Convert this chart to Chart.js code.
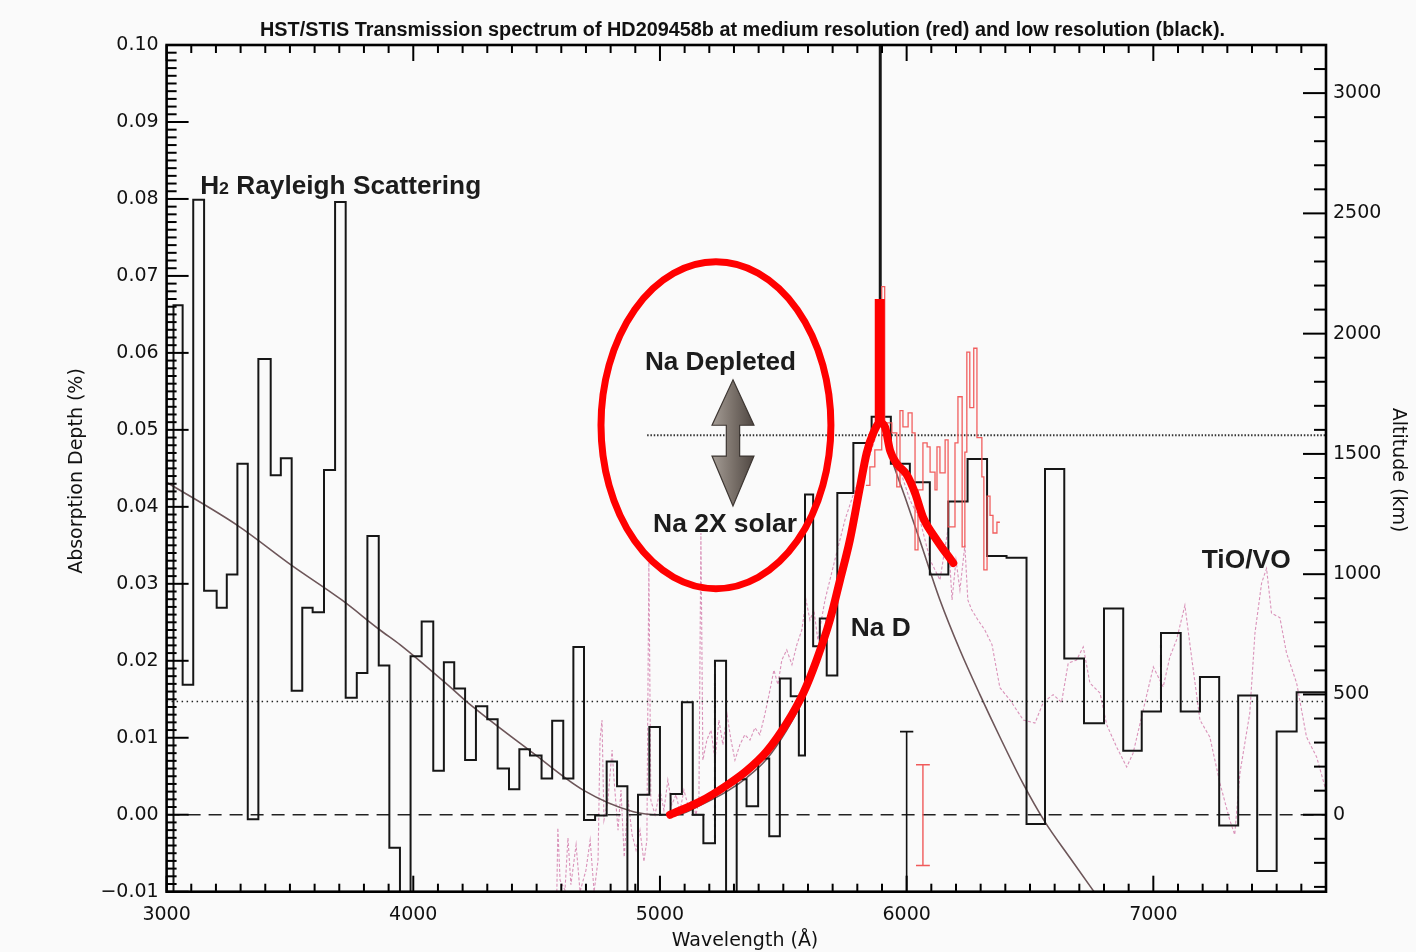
<!DOCTYPE html>
<html>
<head>
<meta charset="utf-8">
<script src="https://cdn.jsdelivr.net/npm/chart.js@4/dist/chart.umd.min.js"></script>
<style>
  html, body { margin: 0; padding: 0; background: #fafafa; }
  canvas { display: block; }
</style>
</head>
<body>
<canvas id="spectrum" width="1416" height="952" style="width:1416px;height:952px"></canvas>
<script>
// ---------------- tick definitions ----------------
const wavelengthTicks = [3000, 4000, 5000, 6000, 7000];
const depthTicks = [-0.01, 0.00, 0.01, 0.02, 0.03, 0.04, 0.05, 0.06, 0.07, 0.08, 0.09, 0.10];
const altitudeTicks = [0, 500, 1000, 1500, 2000, 2500, 3000];

// ---------------- low resolution (black) binned spectrum ----------------
// left edge of each bin (Angstrom), last entry closes the final bin
const lowResEdges = [3028,3065,3108,3152,3203,3244,3287,3329,3372,3422,
  3463,3507,3550,3592,3638,3683,3726,3771,3814,3860,
  3903,3946,3989,4034,4081,4124,4166,4210,4254,4300,
  4342,4388,4430,4473,4520,4563,4608,4649,4692,4737,
  4784,4826,4868,4911,4957,5000,5043,5089,5133,5176,
  5223,5268,5311,5351,5398,5443,5486,5530,5563,5588,
  5621,5648,5676,5719,5784,5858,5891,5895,5936,6013,
  6094,6169,6247,6326,6405,6486,6561,6639,6719,6800,
  6878,6953,7031,7111,7189,7267,7344,7421,7500,7581,7700];
// absorption depth (%) per bin; -0.03 marks bins that fall below the plotted range
const lowResDepth = [0.0662,0.0169,0.0799,0.0291,0.0269,0.0312,0.0456,-0.0006,0.0592,0.0441,
  0.0463,0.0161,0.0269,0.0263,0.0448,0.0796,0.0152,0.0184,0.0362,0.0194,
  -0.0043,-0.0300,0.0206,0.0251,0.0057,0.0198,0.0164,0.0071,0.0141,0.0124,
  0.0060,0.0033,0.0085,0.0077,0.0047,0.0122,0.0047,0.0218,-0.0007,-0.0001,
  0.0069,0.0037,-0.0300,0.0026,0.0114,0.0000,0.0027,0.0146,0.0000,-0.0037,
  0.0200,-0.0300,0.0046,0.0011,0.0073,-0.0028,0.0177,0.0154,0.0077,0.0416,
  0.0219,0.0255,0.0181,0.0418,0.0483,0.0517,0.2000,0.0517,0.0456,0.0432,
  0.0312,0.0407,0.0462,0.0336,0.0334,-0.0012,0.0449,0.0203,0.0119,0.0268,
  0.0083,0.0134,0.0236,0.0134,0.0179,-0.0014,0.0155,-0.0073,0.0108,0.0159];

// ---------------- medium resolution (red) spectrum around Na D ----------------
const medResEdges = [5835,5851,5871,5899,5911,5940,5960,5973,5985,6006,6022,6034,6046,6066,6083,6095,
  6115,6123,6135,6156,6168,6196,6208,6225,6236,6244,6256,6272,6285,6305,6313,6326,6338,6350,6366,6378];
const medResDepth = [0.0428,0.0452,0.0474,0.0686,0.0509,0.0496,0.0426,0.0525,0.0504,0.0522,
  0.0496,0.0344,0.0422,0.0483,0.0478,0.0445,0.0422,0.0478,0.0444,0.0487,
  0.0374,0.0483,0.0543,0.0348,0.0471,0.0601,0.0529,0.0606,0.0490,0.0439,
  0.0318,0.0414,0.0389,0.0366,0.0380];

// ---------------- high resolution model spectrum (pink dashed) ----------------
const modelWave = [4582,4586,4595,4615,4627,4639,4660,4676,4700,4717,4733,4749,4757,4765,4773,4789,4806,4814,4830,4842,
  4855,4871,4887,4903,4919,4935,4947,4955,4963,4980,5000,5016,5032,5048,5065,5081,5097,5113,5130,5146,
  5158,5166,5174,5190,5207,5223,5239,5255,5272,5288,5304,5324,5344,5365,5385,5405,5425,5446,5462,5478,
  5494,5514,5535,5555,5575,5592,5608,5624,5640,5669,5709,5750,5790,5831,5871,5895,5924,5973,6013,6054,
  6095,6135,6167,6184,6200,6216,6236,6248,6264,6289,6317,6346,6378,6419,6473,6520,6554,6594,6628,6655,
  6689,6716,6743,6784,6811,6851,6892,6918,6959,7000,7040,7067,7094,7128,7155,7189,7229,7270,7310,7330,
  7351,7391,7412,7439,7459,7479,7513,7540,7581,7621,7662,7696];
const modelDepth = [-0.0100,-0.0017,-0.0085,-0.0098,-0.0030,-0.0091,-0.0039,-0.0100,-0.0072,-0.0033,-0.0100,-0.0059,0.0097,0.0123,-0.0007,0.0019,0.0084,0.0045,-0.0020,0.0032,
  -0.0055,0.0019,-0.0026,-0.0046,-0.0020,-0.0061,-0.0033,0.0328,0.0019,0.0000,0.0032,0.0006,0.0045,0.0013,0.0026,0.0004,0.0032,0.0013,0.0019,0.0000,
  0.0019,0.0366,0.0071,0.0097,0.0110,0.0071,0.0123,0.0091,0.0130,0.0097,0.0071,0.0091,0.0104,0.0097,0.0113,0.0104,0.0130,0.0162,0.0188,0.0169,
  0.0201,0.0214,0.0195,0.0221,0.0240,0.0279,0.0253,0.0266,0.0227,0.0279,0.0331,0.0383,0.0422,0.0448,0.0487,0.0539,0.0474,0.0448,0.0409,0.0383,
  0.0331,0.0305,0.0370,0.0279,0.0331,0.0292,0.0350,0.0279,0.0266,0.0253,0.0240,0.0221,0.0165,0.0149,0.0123,0.0119,0.0146,0.0156,0.0146,0.0197,
  0.0201,0.0218,0.0171,0.0158,0.0117,0.0088,0.0062,0.0080,0.0136,0.0192,0.0166,0.0205,0.0227,0.0272,0.0205,0.0123,0.0101,0.0041,-0.0007,-0.0026,
  0.0054,0.0132,0.0236,0.0301,0.0320,0.0262,0.0256,0.0210,0.0171,0.0101,0.0075,0.0036];

// ---------------- smooth atmosphere model (grey) ----------------
const rayleighWave = [3000,3287,3507,3710,3865,3946,4149,4216,4486,4689,4892,5000,5081,5162,5270,5351,5432,5514,5581,5635,
  5689,5730,5770,5811,5850,5880,5900,5936,5993,6054,6135,6216,6297,6378,6471,6560,6662,6755,6844];
const rayleighDepth = [0.0432,0.0376,0.0324,0.0279,0.0240,0.0221,0.0166,0.0147,0.0080,0.0032,0.0004,0.0000,0.0001,0.0012,0.0030,0.0048,0.0072,0.0110,0.0150,0.0195,
  0.0250,0.0300,0.0355,0.0420,0.0475,0.0505,0.0505,0.0465,0.0413,0.0356,0.0279,0.0214,0.0156,0.0101,0.0041,-0.0009,-0.0056,-0.0098,-0.0137];

// ---------------- Na 2X solar profile (thick red) ----------------
const naWave = [5041,5162,5270,5351,5432,5514,5581,5635,5689,5730,5770,5811,5838,5865,5892,5912,5933,5960,6000,6034,6067,6122,6189];
const naDepth = [0.0000,0.0017,0.0038,0.0057,0.0082,0.0119,0.0158,0.0201,0.0253,0.0305,0.0357,0.0426,0.0470,0.0496,0.0509,0.0504,0.0473,0.0456,0.0442,0.0418,0.0386,0.0357,0.0327];
// Na depleted range: line core marker
const naCoreWave = 5891;
const naCoreRange = [0.0509, 0.0670];

// ---------------- reference levels ----------------
const zeroLevel = 0.0;
const hazeLevel = 0.0147;
const naSolarLevel = 0.0493;
const naSolarLevelStart = 4948;

// ---------------- typical error bars ----------------
const lowResErr = { wave: 6000, top: 0.0108, bottom: -0.0300, half: 27 };
const medResErr = { wave: 6066, top: 0.0065, bottom: -0.0066, half: 28 };

// ---------------- annotation geometry (data units) ----------------
const naEllipse = { wave: 5227, depth: 0.0506, rWave: 466, rDepth: 0.02124 };
const naArrow = { wave: 5296, tipTop: 0.0565, headTop: 0.0506, headBottom: 0.0466, tipBottom: 0.0401, headHalf: 85, shaftHalf: 27 };
const labels = [
  { parts: ['H', '2', ' Rayleigh Scattering'], wave: 3136, depth: 0.0807, width: 281 },
  { parts: ['Na Depleted'], wave: 4939, depth: 0.0578, width: 151 },
  { parts: ['Na 2X solar'], wave: 4972, depth: 0.0367, width: 144 },
  { parts: ['Na D'], wave: 5773, depth: 0.0232, width: 60 },
  { parts: ['TiO/VO'], wave: 7196, depth: 0.0320, width: 89 }
];

const ALT_PER_DEPTH = 32000;   // km of altitude per unit absorption depth
const DEPTH_MIN = -0.01, DEPTH_MAX = 0.10;
const WAVE_MIN = 3000, WAVE_MAX = 7700;

// ---------------- helpers ----------------
function histogramPoints(edges, values, startFloor) {
  const pts = [];
  if (startFloor !== undefined) pts.push({ x: edges[0], y: startFloor });
  values.forEach((v, i) => pts.push({ x: edges[i], y: v }));
  pts.push({ x: edges[edges.length - 1], y: values[values.length - 1] });
  return pts;
}
function pairs(xs, ys) { return xs.map((x, i) => ({ x: x, y: ys[i] })); }
function errorBar(e) {
  return [
    { x: e.wave - e.half, y: e.top }, { x: e.wave + e.half, y: e.top }, { x: e.wave, y: null },
    { x: e.wave, y: e.top }, { x: e.wave, y: e.bottom }, { x: e.wave, y: null },
    { x: e.wave - e.half, y: e.bottom }, { x: e.wave + e.half, y: e.bottom }
  ];
}

const baseLine = { pointRadius: 0, fill: false, tension: 0, spanGaps: false };

const datasets = [
  Object.assign({}, baseLine, { label: 'Na 2X solar', data: pairs(naWave, naDepth), borderColor: '#ff0000',
    borderWidth: 8, cubicInterpolationMode: 'monotone', borderCapStyle: 'round', borderJoinStyle: 'round', order: 0 }),
  Object.assign({}, baseLine, { label: 'Na core', data: [{ x: naCoreWave, y: naCoreRange[0] }, { x: naCoreWave, y: naCoreRange[1] }],
    borderColor: '#ff0000', borderWidth: 10, borderCapStyle: 'butt', order: 0 }),
  Object.assign({}, baseLine, { label: 'low-res error', data: errorBar(lowResErr), borderColor: '#111', borderWidth: 1.6, order: 1 }),
  Object.assign({}, baseLine, { label: 'med-res error', data: errorBar(medResErr), borderColor: '#f05a5a', borderWidth: 1.4, order: 1 }),
  Object.assign({}, baseLine, { label: 'medium resolution', data: histogramPoints(medResEdges, medResDepth), stepped: true,
    borderColor: 'rgba(240,85,85,0.95)', borderWidth: 1.3, order: 2 }),
  Object.assign({}, baseLine, { label: 'low resolution', data: histogramPoints(lowResEdges, lowResDepth, -0.03), stepped: true,
    borderColor: '#161616', borderWidth: 2, order: 3 }),
  Object.assign({}, baseLine, { label: 'zero', data: [{ x: WAVE_MIN, y: zeroLevel }, { x: WAVE_MAX, y: zeroLevel }],
    borderColor: '#222', borderWidth: 1.3, borderDash: [13, 8], order: 4 }),
  Object.assign({}, baseLine, { label: 'haze level', data: [{ x: WAVE_MIN, y: hazeLevel }, { x: WAVE_MAX, y: hazeLevel }],
    borderColor: '#222', borderWidth: 1.5, borderDash: [1.5, 3.5], order: 4 }),
  Object.assign({}, baseLine, { label: 'Na solar level', data: [{ x: naSolarLevelStart, y: naSolarLevel }, { x: WAVE_MAX, y: naSolarLevel }],
    borderColor: '#333', borderWidth: 1.8, borderDash: [1.5, 1.8], order: 4 }),
  Object.assign({}, baseLine, { label: 'Rayleigh model', data: pairs(rayleighWave, rayleighDepth), borderColor: '#6d5659',
    borderWidth: 1.6, cubicInterpolationMode: 'monotone', order: 5 }),
  Object.assign({}, baseLine, { label: 'model spectrum', data: pairs(modelWave, modelDepth), borderColor: 'rgba(214,135,178,0.9)',
    borderWidth: 1.1, borderDash: [3, 2], order: 6 })
];

// ---------------- drawing plugins ----------------
const frameTicks = {
  id: 'frameTicks',
  afterDraw(chart) {
    const { ctx, chartArea: a, scales } = chart;
    const x = scales.x, y = scales.y, alt = scales.alt;
    ctx.save();
    ctx.strokeStyle = '#000';
    ctx.lineWidth = 2;
    ctx.lineCap = 'butt';
    const seg = (x1, y1, x2, y2) => { ctx.beginPath(); ctx.moveTo(x1, y1); ctx.lineTo(x2, y2); ctx.stroke(); };
    for (let w = WAVE_MIN; w <= WAVE_MAX; w += 100) {
      const px = x.getPixelForValue(w);
      const len = (w % 1000 === 0) ? 16 : 8;
      seg(px, a.bottom, px, a.bottom - len);
      seg(px, a.top, px, a.top + len);
    }
    for (let i = -10; i <= 100; i++) {
      const py = y.getPixelForValue(i / 1000);
      const len = (i % 10 === 0) ? 22 : 10;
      seg(a.left, py, a.left + len, py);
    }
    for (let k = -300; k <= 3200; k += 100) {
      const py = alt.getPixelForValue(k);
      if (py < a.top || py > a.bottom) continue;
      const len = (k % 500 === 0) ? 23 : 12;
      seg(a.right, py, a.right - len, py);
    }
    ctx.lineWidth = 2.6;
    ctx.strokeRect(a.left, a.top, a.right - a.left, a.bottom - a.top);
    ctx.restore();
  }
};

function drawFitted(ctx, parts, left, baseline, width) {
  let total = 0;
  const widths = parts.map(p => { ctx.font = p.font; const w = ctx.measureText(p.text).width; total += w; return w; });
  ctx.save();
  ctx.translate(left, baseline);
  ctx.scale(width / total, 1);
  ctx.textAlign = 'left';
  ctx.textBaseline = 'alphabetic';
  let cx = 0;
  parts.forEach((p, i) => { ctx.font = p.font; ctx.fillText(p.text, cx, 0); cx += widths[i]; });
  ctx.restore();
}

const annotations = {
  id: 'annotations',
  afterDraw(chart) {
    const { ctx, scales } = chart;
    const x = scales.x, y = scales.y;
    ctx.save();

    // double arrow between the two sodium abundances
    const ax = x.getPixelForValue(naArrow.wave);
    const hw = x.getPixelForValue(naArrow.wave + naArrow.headHalf) - ax;
    const sw = x.getPixelForValue(naArrow.wave + naArrow.shaftHalf) - ax;
    const yT = y.getPixelForValue(naArrow.tipTop), yH1 = y.getPixelForValue(naArrow.headTop);
    const yH2 = y.getPixelForValue(naArrow.headBottom), yB = y.getPixelForValue(naArrow.tipBottom);
    const grad = ctx.createLinearGradient(ax - hw, 0, ax + hw, 0);
    grad.addColorStop(0, '#a59d96');
    grad.addColorStop(0.5, '#7a716a');
    grad.addColorStop(1, '#4f4742');
    ctx.fillStyle = grad;
    ctx.strokeStyle = '#3d3632';
    ctx.lineWidth = 1.2;
    ctx.beginPath();
    ctx.moveTo(ax, yT);
    ctx.lineTo(ax + hw, yH1); ctx.lineTo(ax + sw, yH1); ctx.lineTo(ax + sw, yH2); ctx.lineTo(ax + hw, yH2);
    ctx.lineTo(ax, yB);
    ctx.lineTo(ax - hw, yH2); ctx.lineTo(ax - sw, yH2); ctx.lineTo(ax - sw, yH1); ctx.lineTo(ax - hw, yH1);
    ctx.closePath();
    ctx.fill();
    ctx.stroke();

    // red ellipse around the abundance annotation
    const ex = x.getPixelForValue(naEllipse.wave), ey = y.getPixelForValue(naEllipse.depth);
    const rx = x.getPixelForValue(naEllipse.wave + naEllipse.rWave) - ex;
    const ry = ey - y.getPixelForValue(naEllipse.depth + naEllipse.rDepth);
    ctx.strokeStyle = '#ff0000';
    ctx.lineWidth = 7;
    ctx.beginPath();
    ctx.ellipse(ex, ey, rx, ry, 0, 0, Math.PI * 2);
    ctx.stroke();

    // labels
    ctx.fillStyle = '#1c1c1c';
    const big = 'bold 25px "Liberation Sans", Arial, sans-serif';
    const sub = 'bold 17px "Liberation Sans", Arial, sans-serif';
    labels.forEach(l => {
      const parts = l.parts.map((t, i) => ({ text: t, font: (l.parts.length > 1 && i === 1) ? sub : big }));
      drawFitted(ctx, parts, x.getPixelForValue(l.wave), y.getPixelForValue(l.depth), l.width);
    });

    // title and axis titles
    ctx.fillStyle = '#111';
    drawFitted(ctx, [{ text: 'HST/STIS Transmission spectrum of HD209458b at medium resolution (red) and low resolution (black).',
      font: 'bold 20px "Liberation Sans", Arial, sans-serif' }], 260, 36, 965);

    ctx.font = '19px "DejaVu Sans", sans-serif';
    ctx.textAlign = 'center';
    ctx.textBaseline = 'alphabetic';
    ctx.fillText('Wavelength (\u00C5)', 745, 946);

    ctx.save();
    ctx.translate(81.5, 471);
    ctx.rotate(-Math.PI / 2);
    ctx.fillText('Absorption Depth (%)', 0, 0);
    ctx.restore();

    ctx.save();
    ctx.translate(1393, 470);
    ctx.rotate(Math.PI / 2);
    ctx.fillText('Altitude (km)', 0, 0);
    ctx.restore();

    ctx.restore();
  }
};

const tickFont = { family: '"DejaVu Sans", sans-serif', size: 19 };

new Chart(document.getElementById('spectrum'), {
  type: 'line',
  data: { datasets: datasets },
  options: {
    responsive: false,
    animation: false,
    events: [],
    layout: { padding: { top: 45, left: 0, right: 0, bottom: 0 } },
    plugins: { legend: { display: false }, tooltip: { enabled: false }, title: { display: false } },
    scales: {
      x: {
        type: 'linear', position: 'bottom', min: WAVE_MIN, max: WAVE_MAX,
        grid: { display: false, drawTicks: false }, border: { display: false },
        afterBuildTicks: s => { s.ticks = wavelengthTicks.map(v => ({ value: v })); },
        afterFit: s => { s.height = 60.3; },
        ticks: { font: tickFont, color: '#111', padding: 12, maxRotation: 0, autoSkip: false,
          callback: v => String(v) }
      },
      y: {
        type: 'linear', position: 'left', min: DEPTH_MIN, max: DEPTH_MAX,
        grid: { display: false, drawTicks: false }, border: { display: false },
        afterBuildTicks: s => { s.ticks = depthTicks.map(v => ({ value: v })); },
        afterFit: s => { s.width = 166.6; },
        ticks: { font: tickFont, color: '#111', padding: 8, autoSkip: false,
          callback: v => (v < -1e-9 ? '\u2212' + Math.abs(v).toFixed(2) : Math.abs(v).toFixed(2)) }
      },
      alt: {
        type: 'linear', position: 'right', min: DEPTH_MIN * ALT_PER_DEPTH, max: DEPTH_MAX * ALT_PER_DEPTH,
        grid: { display: false, drawTicks: false }, border: { display: false },
        afterBuildTicks: s => { s.ticks = altitudeTicks.map(v => ({ value: v })); },
        afterFit: s => { s.width = 90; },
        ticks: { font: tickFont, color: '#111', padding: 7, autoSkip: false, callback: v => String(v) }
      }
    }
  },
  plugins: [frameTicks, annotations]
});
</script>
</body>
</html>
